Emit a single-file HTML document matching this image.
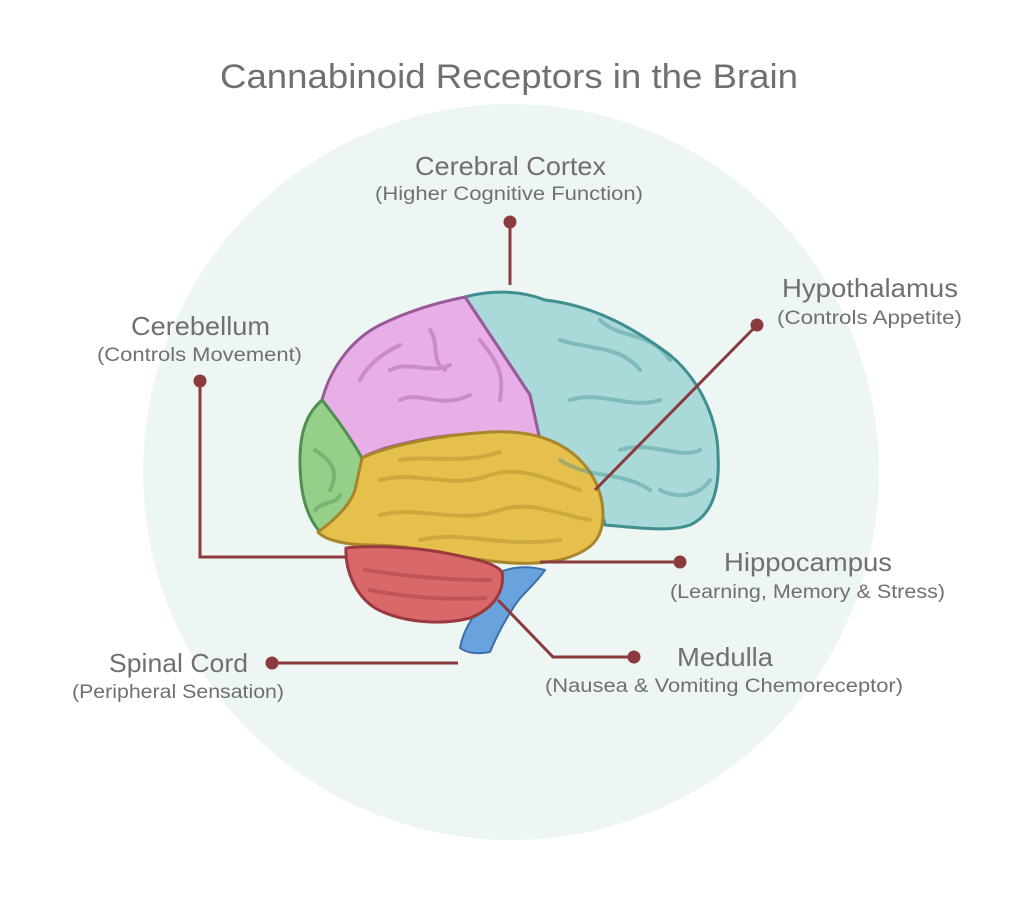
<!DOCTYPE html>
<html><head><meta charset="utf-8"><style>
html,body{margin:0;padding:0;background:#fff;}
svg{display:block;}
text{font-family:"Liberation Sans",sans-serif;fill:#707070;}
</style></head><body>
<svg width="1023" height="897" viewBox="0 0 1023 897" xmlns="http://www.w3.org/2000/svg">
<rect width="1023" height="897" fill="#fff"/>
<circle cx="511" cy="472" r="368" fill="#edf6f2"/>
<text x="220" y="88" font-size="34" textLength="578" lengthAdjust="spacingAndGlyphs">Cannabinoid Receptors in the Brain</text>

<g stroke-linejoin="round">
<path d="M465,297 C490,290 520,290 545,300 C590,305 630,325 670,355 C700,380 718,420 718,455 C720,490 712,515 690,525 C670,532 640,528 605,525 L596,490 C570,460 545,450 540,440 L530,395 Z" fill="#a9d9d8" stroke="#3f8f8f" stroke-width="3"/>
<path d="M322,400 C330,370 350,340 380,325 C410,310 440,302 465,297 L530,395 L540,440 C500,432 460,432 420,440 C395,445 375,450 362,458 C350,440 338,420 322,400 Z" fill="#e8aee6" stroke="#9a5a9a" stroke-width="3"/>
<path d="M322,400 C338,420 352,440 362,458 C358,480 355,500 348,512 C338,522 328,530 320,532 C305,515 300,490 300,460 C300,430 308,412 322,400 Z" fill="#96cf8a" stroke="#4f8f4f" stroke-width="3"/>
<path d="M362,458 C390,445 440,435 490,432 C530,430 560,440 580,460 C595,475 603,495 603,515 C603,540 590,552 560,560 C530,566 500,563 470,558 C440,552 400,545 370,545 C345,545 325,540 318,532 C335,520 350,505 355,490 Z" fill="#e6c04c" stroke="#a8862a" stroke-width="3"/>
<path d="M500,572 C515,566 530,566 545,570 C535,585 520,595 512,610 C502,625 495,640 490,652 C480,654 468,654 460,648 C463,630 475,612 488,598 C498,588 502,580 500,572 Z" fill="#69a3de" stroke="#3c6fa8" stroke-width="2"/>
<path d="M346,548 C370,545 410,547 440,552 C470,558 495,562 502,572 C505,590 495,608 470,618 C440,626 400,622 375,608 C355,595 345,570 346,548 Z" fill="#d9686a" stroke="#9a3a3e" stroke-width="3"/>
</g>
<g fill="none" stroke-linecap="round" opacity="0.4" stroke-width="4">
<path d="M390,370 C410,360 430,375 450,365 M400,400 C420,390 440,410 470,395 M480,340 C495,360 505,370 500,400 M360,380 C370,360 390,350 400,345 M430,330 C440,345 430,360 445,370" stroke="#9a5a9a"/>
<path d="M560,340 C590,350 620,345 640,370 M570,400 C600,390 630,410 660,400 M620,450 C650,440 680,460 700,450 M560,460 C590,480 620,470 650,490 M600,320 C620,340 650,330 670,360 M660,490 C680,500 700,495 710,480" stroke="#3f8f8f"/>
<path d="M380,480 C420,470 450,490 490,475 C520,465 550,480 580,490 M380,515 C420,505 460,525 500,510 C530,500 560,515 590,520 M400,460 C430,455 460,465 500,452 M420,540 C460,530 500,548 560,540" stroke="#a8862a"/>
<path d="M365,570 C400,575 440,580 490,580 M370,590 C410,598 450,600 485,598" stroke="#9a3a3e"/>
<path d="M315,450 C330,460 340,470 330,490 M315,510 C325,500 335,505 340,495" stroke="#4f8f4f"/>
</g>

<g stroke="#8b3a3e" stroke-width="3" fill="none">
<path d="M510,222 V285"/>
<path d="M757,325 L595,490"/>
<path d="M200,381 V557 H345"/>
<path d="M680,562 H540"/>
<path d="M634,657 H553 L498,600"/>
<path d="M272,663 H458"/>
</g>
<g fill="#8b3a3e">
<circle cx="510" cy="222" r="6.5"/><circle cx="757" cy="325" r="6.5"/><circle cx="200" cy="381" r="6.5"/>
<circle cx="680" cy="562" r="6.5"/><circle cx="634" cy="657" r="6.5"/><circle cx="272" cy="663" r="6.5"/>
</g>

<text x="415" y="175" font-size="26" textLength="191" lengthAdjust="spacingAndGlyphs">Cerebral Cortex</text>
<text x="375" y="200" font-size="19" textLength="268" lengthAdjust="spacingAndGlyphs">(Higher Cognitive Function)</text>
<text x="782" y="297" font-size="26" textLength="176" lengthAdjust="spacingAndGlyphs">Hypothalamus</text>
<text x="777" y="324" font-size="19" textLength="185" lengthAdjust="spacingAndGlyphs">(Controls Appetite)</text>
<text x="131" y="335" font-size="26" textLength="139" lengthAdjust="spacingAndGlyphs">Cerebellum</text>
<text x="97" y="361" font-size="19" textLength="205" lengthAdjust="spacingAndGlyphs">(Controls Movement)</text>
<text x="724" y="571" font-size="26" textLength="168" lengthAdjust="spacingAndGlyphs">Hippocampus</text>
<text x="670" y="598" font-size="19" textLength="275" lengthAdjust="spacingAndGlyphs">(Learning, Memory &amp; Stress)</text>
<text x="677" y="666" font-size="26" textLength="96" lengthAdjust="spacingAndGlyphs">Medulla</text>
<text x="545" y="692" font-size="19" textLength="358" lengthAdjust="spacingAndGlyphs">(Nausea &amp; Vomiting Chemoreceptor)</text>
<text x="109" y="672" font-size="26" textLength="139" lengthAdjust="spacingAndGlyphs">Spinal Cord</text>
<text x="72" y="698" font-size="19" textLength="212" lengthAdjust="spacingAndGlyphs">(Peripheral Sensation)</text>
</svg>
</body></html>
